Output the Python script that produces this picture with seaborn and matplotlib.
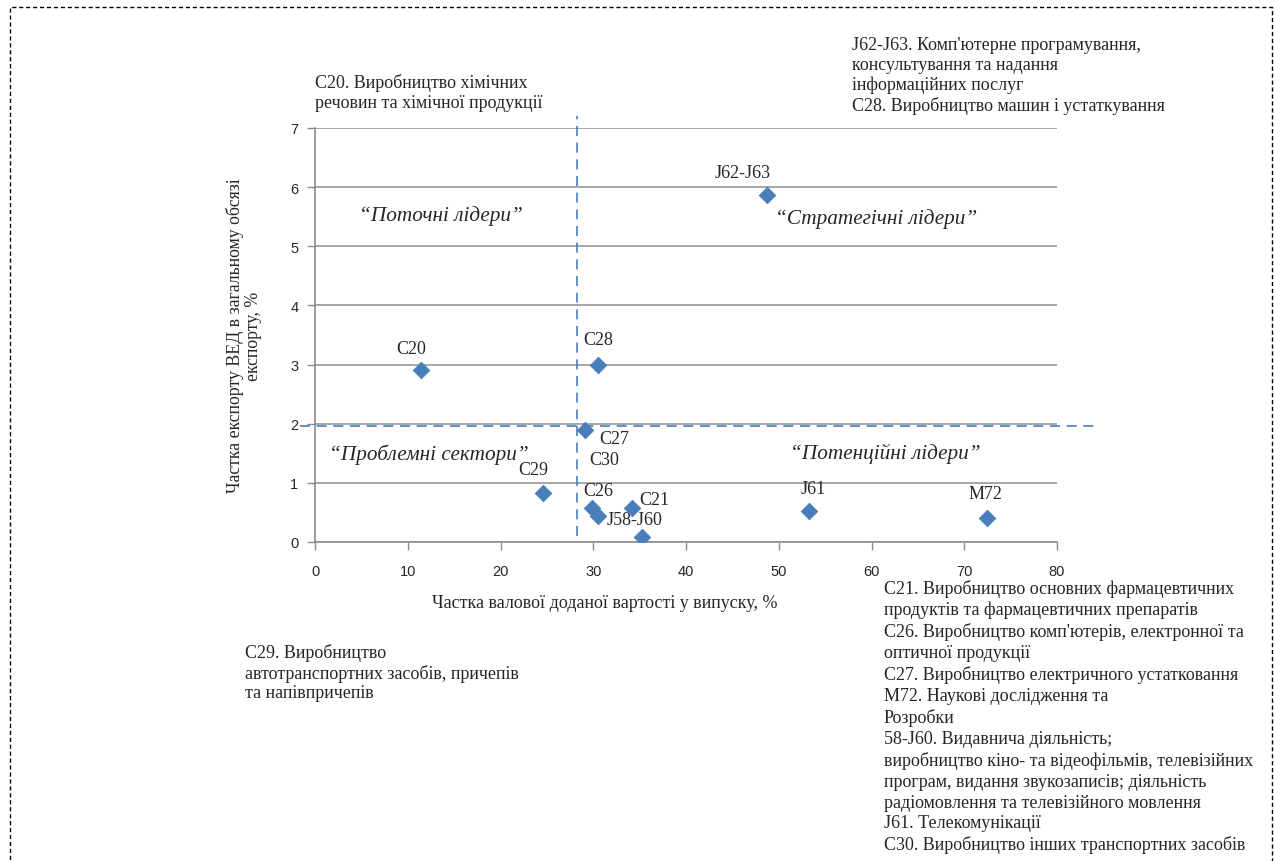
import pandas as pd
import matplotlib.pyplot as plt
import seaborn as sns
from matplotlib.patches import Rectangle

# data
codes = ["C20", "C28", "J62-J63", "C27", "C29", "C26", "C30", "C21", "J58-J60", "J61", "M72"]
value_added = [11.4, 30.5, 48.7, 29.1, 24.6, 29.9, 30.5, 34.2, 35.3, 53.3, 72.5]
export_share = [2.91, 2.99, 5.87, 1.89, 0.83, 0.57, 0.44, 0.57, 0.08, 0.52, 0.41]
# label offsets in pixels (dx, dy)
label_dx = [-10, 0, -24, 29, -10, 6, 6, 22, -8, 4, -2]
label_dy = [21, 26, 22, -8, 23, 18, 56, 9, 18, 23, 24]

x_split = 28.2
y_split = 1.96

x_label = "Частка валової доданої вартості у випуску, %"
y_label = "Частка експорту ВЕД в загальному обсязі\nекспорту, %"

quadrants = ["“Поточні лідери”", "“Стратегічні лідери”", "“Проблемні сектори”", "“Потенційні лідери”"]
quad_x = [13.6, 60.5, 12.3, 61.5]
quad_y = [5.53, 5.48, 1.5, 1.5]

note_top_left = "С20. Виробництво хімічних\nречовин та хімічної продукції"
note_top_right = ("J62-J63. Комп'ютерне програмування,\nконсультування та надання\n"
                  "інформаційних послуг\nС28. Виробництво машин і устаткування")
note_bottom_left = "С29. Виробництво\nавтотранспортних засобів, причепів\nта напівпричепів"
note_bottom_right = ("С21. Виробництво основних фармацевтичних\nпродуктів та фармацевтичних препаратів\n"
                     "С26. Виробництво комп'ютерів, електронної та\nоптичної продукції\n"
                     "С27. Виробництво електричного устатковання\nМ72. Наукові дослідження та\n"
                     "Розробки\n58-J60. Видавнича діяльність;\n"
                     "виробництво кіно- та відеофільмів, телевізійних\nпрограм, видання звукозаписів; діяльність\n"
                     "радіомовлення та телевізійного мовлення\nJ61. Телекомунікації\n"
                     "С30. Виробництво інших транспортних засобів")

df = pd.DataFrame({"code": codes, "x": value_added, "y": export_share})

sns.set_theme(style="white")
plt.rcParams['font.family'] = ['Liberation Serif', 'DejaVu Serif']

fig = plt.figure(figsize=(12.74, 8.62), dpi=100)
ax = fig.add_axes([315 / 1274, 1 - 543 / 862, 742 / 1274, 414 / 862])

blue = "#4A7EBB"
sns.scatterplot(data=df, x="x", y="y", marker="D", s=70, color=blue, edgecolor=blue, ax=ax, zorder=5)

ax.set_xlim(0, 80)
ax.set_ylim(0, 7)
ax.set_xticks(range(0, 81, 10))
ax.set_yticks(range(0, 8))
ax.yaxis.grid(True, color="#A6A6A6", linewidth=1.4)
ax.xaxis.grid(False)
for s in ["top", "right"]:
    ax.spines[s].set_visible(False)
for s in ["left", "bottom"]:
    ax.spines[s].set_color("#8C8C8C")
    ax.spines[s].set_linewidth(1.2)
ax.tick_params(axis="both", which="major", length=6, width=1, color="#8C8C8C", direction="out",
               left=True, bottom=True, labelsize=10.5)
ax.tick_params(axis="x", pad=10)
ax.tick_params(axis="y", pad=6)
for lab in ax.get_xticklabels() + ax.get_yticklabels():
    lab.set_family("Liberation Sans")

ax.set_xlabel(x_label, fontsize=13, va="center")
ax.xaxis.set_label_coords(0.391, -0.145)
ax.set_ylabel(y_label, fontsize=12.8, labelpad=20, linespacing=1.1)

# split lines extending a bit outside the plot area
ax.plot([x_split, x_split], [0.1, 7.2], ls=(0, (6, 4)), color=blue, lw=1.2, clip_on=False)
ax.plot([-1.6, 84], [y_split, y_split], ls=(0, (6, 4)), color=blue, lw=1.2, clip_on=False)

for c, xv, yv, dx, dy in zip(codes, value_added, export_share, label_dx, label_dy):
    ax.annotate(c, (xv, yv), xytext=(dx, dy), textcoords="offset pixels",
                ha="center", va="center", fontsize=13)

for q, qx, qy in zip(quadrants, quad_x, quad_y):
    ax.text(qx, qy, q, ha="center", va="center", fontsize=15.3, style="italic")

fig.text(315 / 1274, 1 - 74 / 862, note_top_left, ha="left", va="top", fontsize=13, linespacing=1.2)
fig.text(852 / 1274, 1 - 37 / 862, note_top_right, ha="left", va="top", fontsize=13, linespacing=1.2)
fig.text(245 / 1274, 1 - 644 / 862, note_bottom_left, ha="left", va="top", fontsize=13, linespacing=1.2)
fig.text(884 / 1274, 1 - 580 / 862, note_bottom_right, ha="left", va="top", fontsize=13, linespacing=1.29)

fig.patches.append(Rectangle((10 / 1274, -0.01), 1262 / 1274, 1 - 8 / 862 + 0.01,
                             transform=fig.transFigure, fill=False, ls=(0, (3, 2)),
                             lw=1, edgecolor="black"))

fig.savefig("out.png", dpi=100)
